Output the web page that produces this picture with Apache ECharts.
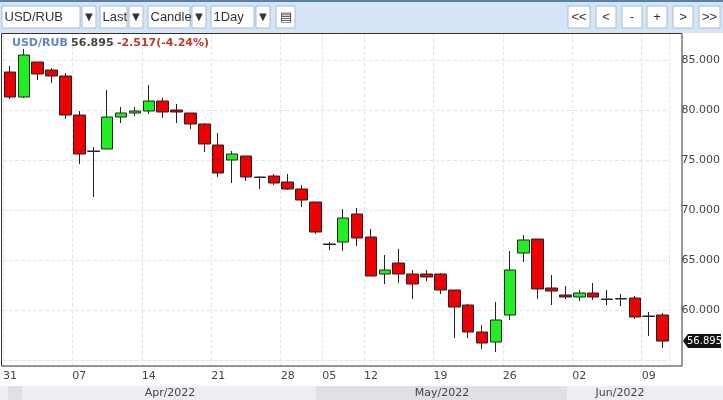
<!DOCTYPE html>
<html>
<head>
<meta charset="utf-8">
<script src="https://cdn.jsdelivr.net/npm/echarts@6/dist/echarts.min.js"></script>
<style>
  html, body { margin: 0; padding: 0; background: #fff; }
  #grafico { width: 723px; height: 400px; }
</style>
</head>
<body>
<div id="grafico"></div>
<script>
// Datos USD/RUB diarios (31/03/2022 - 10/06/2022), [apertura, cierre, mínimo, máximo]
const fechas = [
  '2022-03-31','2022-04-01','2022-04-04','2022-04-05','2022-04-06','2022-04-07','2022-04-08',
  '2022-04-11','2022-04-12','2022-04-13','2022-04-14','2022-04-15',
  '2022-04-18','2022-04-19','2022-04-20','2022-04-21','2022-04-22',
  '2022-04-25','2022-04-26','2022-04-27','2022-04-28','2022-04-29',
  '2022-05-04','2022-05-05','2022-05-06','2022-05-11','2022-05-12','2022-05-13',
  '2022-05-16','2022-05-17','2022-05-18','2022-05-19','2022-05-20',
  '2022-05-23','2022-05-24','2022-05-25','2022-05-26','2022-05-27',
  '2022-05-30','2022-05-31','2022-06-01','2022-06-02','2022-06-03',
  '2022-06-06','2022-06-07','2022-06-08','2022-06-09','2022-06-10'
];
const velas = [
  [83.8, 81.3, 81.1, 84.4], [81.3, 85.5, 81.2, 86.1], [84.8, 83.6, 83.0, 84.8], [84.0, 83.4, 82.7, 84.2],
  [83.4, 79.5, 79.1, 83.7], [79.5, 75.6, 74.6, 79.9], [75.9, 75.85, 71.3, 76.3], [76.1, 79.3, 76.1, 82.0],
  [79.3, 79.7, 78.7, 80.3], [79.7, 79.9, 79.4, 80.3], [79.9, 80.9, 79.6, 82.5], [80.9, 79.8, 79.2, 81.2],
  [80.0, 79.8, 78.7, 80.6], [79.7, 78.6, 78.1, 79.7], [78.6, 76.6, 75.8, 78.7], [76.5, 73.7, 73.3, 77.7],
  [75.0, 75.6, 72.7, 75.9], [75.4, 73.3, 72.9, 75.4], [73.3, 73.25, 72.1, 73.35], [73.4, 72.7, 72.5, 73.6],
  [72.8, 72.1, 72.0, 73.6], [72.1, 71.0, 70.3, 72.5], [70.8, 67.8, 67.6, 70.8], [66.6, 66.55, 66.0, 66.8],
  [66.8, 69.2, 65.9, 70.1], [69.6, 67.2, 66.4, 70.2], [67.3, 63.4, 63.4, 68.1], [63.6, 64.0, 62.6, 65.5],
  [64.7, 63.6, 62.7, 66.1], [63.6, 62.6, 61.1, 64.0], [63.6, 63.3, 62.9, 64.0], [63.6, 62.0, 61.6, 63.7],
  [62.0, 60.3, 57.2, 62.0], [60.5, 57.8, 57.2, 60.6], [57.8, 56.7, 56.1, 58.5], [56.8, 59.0, 55.8, 60.8],
  [59.5, 64.0, 59.0, 65.9], [65.7, 67.0, 64.8, 67.5], [67.1, 62.1, 61.1, 67.1], [62.2, 61.9, 60.5, 63.5],
  [61.5, 61.3, 61.1, 62.4], [61.3, 61.7, 60.9, 62.0], [61.7, 61.3, 61.0, 62.7], [61.1, 61.05, 60.5, 62.0],
  [61.15, 61.1, 60.4, 61.6], [61.2, 59.3, 59.1, 61.4], [59.4, 59.35, 57.4, 59.8], [59.5, 56.895, 56.2, 59.7]
];
const etiquetasX = { 0: '31', 5: '07', 10: '14', 15: '21', 20: '28', 23: '05', 26: '12', 31: '19', 36: '26', 41: '02', 46: '09' };
const etiquetasY = [60, 65, 70, 75, 80, 85];
const meses = [
  { texto: 'Apr/2022', x: 170 },
  { texto: 'May/2022', x: 442 },
  { texto: 'Jun/2022', x: 620 }
];
const ultimo = 56.895;

const fuente = 'DejaVu Sans';
const mapa = echarts.init(document.getElementById('grafico'));

// Caja de la barra de herramientas
function caja(x, w, texto, alinear) {
  return {
    type: 'rect', shape: { x: x, y: 6, width: w, height: 22 },
    style: { fill: '#fff', stroke: '#a9bcd0', lineWidth: 1 },
    textContent: { style: { text: texto, fill: '#333', font: '13px Liberation Sans' } },
    textConfig: { position: alinear === 'left' ? 'insideLeft' : 'inside', distance: 3 }
  };
}

const graficos = [
  { type: 'rect', shape: { x: 0, y: 0, width: 723, height: 33 }, style: { fill: '#d4e5f7' }, z: -1 },
  { type: 'rect', shape: { x: 0, y: 0, width: 723, height: 2 }, style: { fill: '#5a7fae' } },
  caja(2, 78, 'USD/RUB', 'left'), caja(82, 14, '▼'),
  caja(100, 27, 'Last', 'left'), caja(129, 14, '▼'),
  caja(148, 42, 'Candle', 'left'), caja(192, 14, '▼'),
  caja(211, 43, '1Day', 'left'), caja(256, 14, '▼'),
  caja(276, 19, '▤'),
  caja(568, 22, '<<'), caja(596, 20, '<'), caja(622, 20, '-'),
  caja(647, 20, '+'), caja(673, 20, '>'), caja(699, 21, '>>'),
  // banda de meses
  { type: 'rect', shape: { x: 0, y: 386, width: 723, height: 14 }, style: { fill: '#eceef1' }, z: -1 },
  { type: 'rect', shape: { x: 8, y: 386, width: 14, height: 14 }, style: { fill: '#dfe1e4' }, z: -1 },
  { type: 'rect', shape: { x: 316, y: 386, width: 251, height: 14 }, style: { fill: '#dfe1e4' }, z: -1 },
  // borde del área de trazado
  { type: 'rect', shape: { x: 1.5, y: 33.5, width: 680.5, height: 332.5 },
    style: { fill: 'none', stroke: '#333', lineWidth: 1 }, z: 10 },
  { type: 'text', left: 12, top: 37,
    style: {
      text: '{a|USD/RUB} {b|56.895} {c|-2.517(-4.24%)}',
      rich: {
        a: { fill: '#5b88c8', font: 'bold 11px ' + fuente },
        b: { fill: '#444', font: 'bold 11px ' + fuente },
        c: { fill: '#c0392b', font: 'bold 11px ' + fuente }
      }
    }, z: 20 }
];
meses.forEach(m => graficos.push({
  type: 'text', x: m.x, y: 393,
  style: { text: m.texto, fill: '#444', font: '11px ' + fuente, align: 'center', verticalAlign: 'middle' }
}));

const opciones = {
  animation: false,
  grid: { left: 1, top: 33, width: 672, height: 333 },
  xAxis: {
    type: 'category', data: fechas, boundaryGap: true,
    axisLine: { show: false },
    axisTick: { show: false },
    axisLabel: {
      interval: 0, color: '#444', fontFamily: fuente, fontSize: 11, margin: 5,
      formatter: (v, i) => etiquetasX[i] || ''
    },
    splitLine: {
      show: true, interval: (i) => etiquetasX[i] !== undefined,
      lineStyle: { color: '#e6e6e6', type: 'dashed' }
    }
  },
  yAxis: {
    type: 'value', position: 'right', min: 54.4, max: 87.7, splitNumber: 7, offset: 9,
    axisLine: { show: false },
    axisTick: { show: false },
    axisLabel: {
      color: '#444', fontFamily: fuente, fontSize: 11, margin: 3,
      showMinLabel: false, showMaxLabel: false,
      formatter: v => (etiquetasY.includes(v) ? v.toFixed(3) : '')
    },
    splitLine: { lineStyle: { color: '#e6e6e6', type: 'dashed' } }
  },
  series: [{
    type: 'candlestick', data: velas, barWidth: 12,
    itemStyle: {
      color: '#22ee22', color0: '#ee0000',
      borderColor: '#222', borderColor0: '#222', borderWidth: 1
    }
  }],
  graphic: graficos
};
mapa.setOption(opciones);

// Etiqueta del último precio en el eje derecho
const yUltimo = mapa.convertToPixel({ yAxisIndex: 0 }, ultimo);
mapa.setOption({
  graphic: graficos.concat([
    { type: 'polygon', shape: { points: [[683, yUltimo], [688, yUltimo - 7], [721, yUltimo - 7], [721, yUltimo + 7], [688, yUltimo + 7]] },
      style: { fill: '#111' }, z: 20 },
    { type: 'text', x: 687, y: yUltimo,
      style: { text: ultimo.toFixed(3), fill: '#fff', font: '10px ' + fuente, verticalAlign: 'middle' }, z: 21 }
  ])
});
</script>
</body>
</html>
